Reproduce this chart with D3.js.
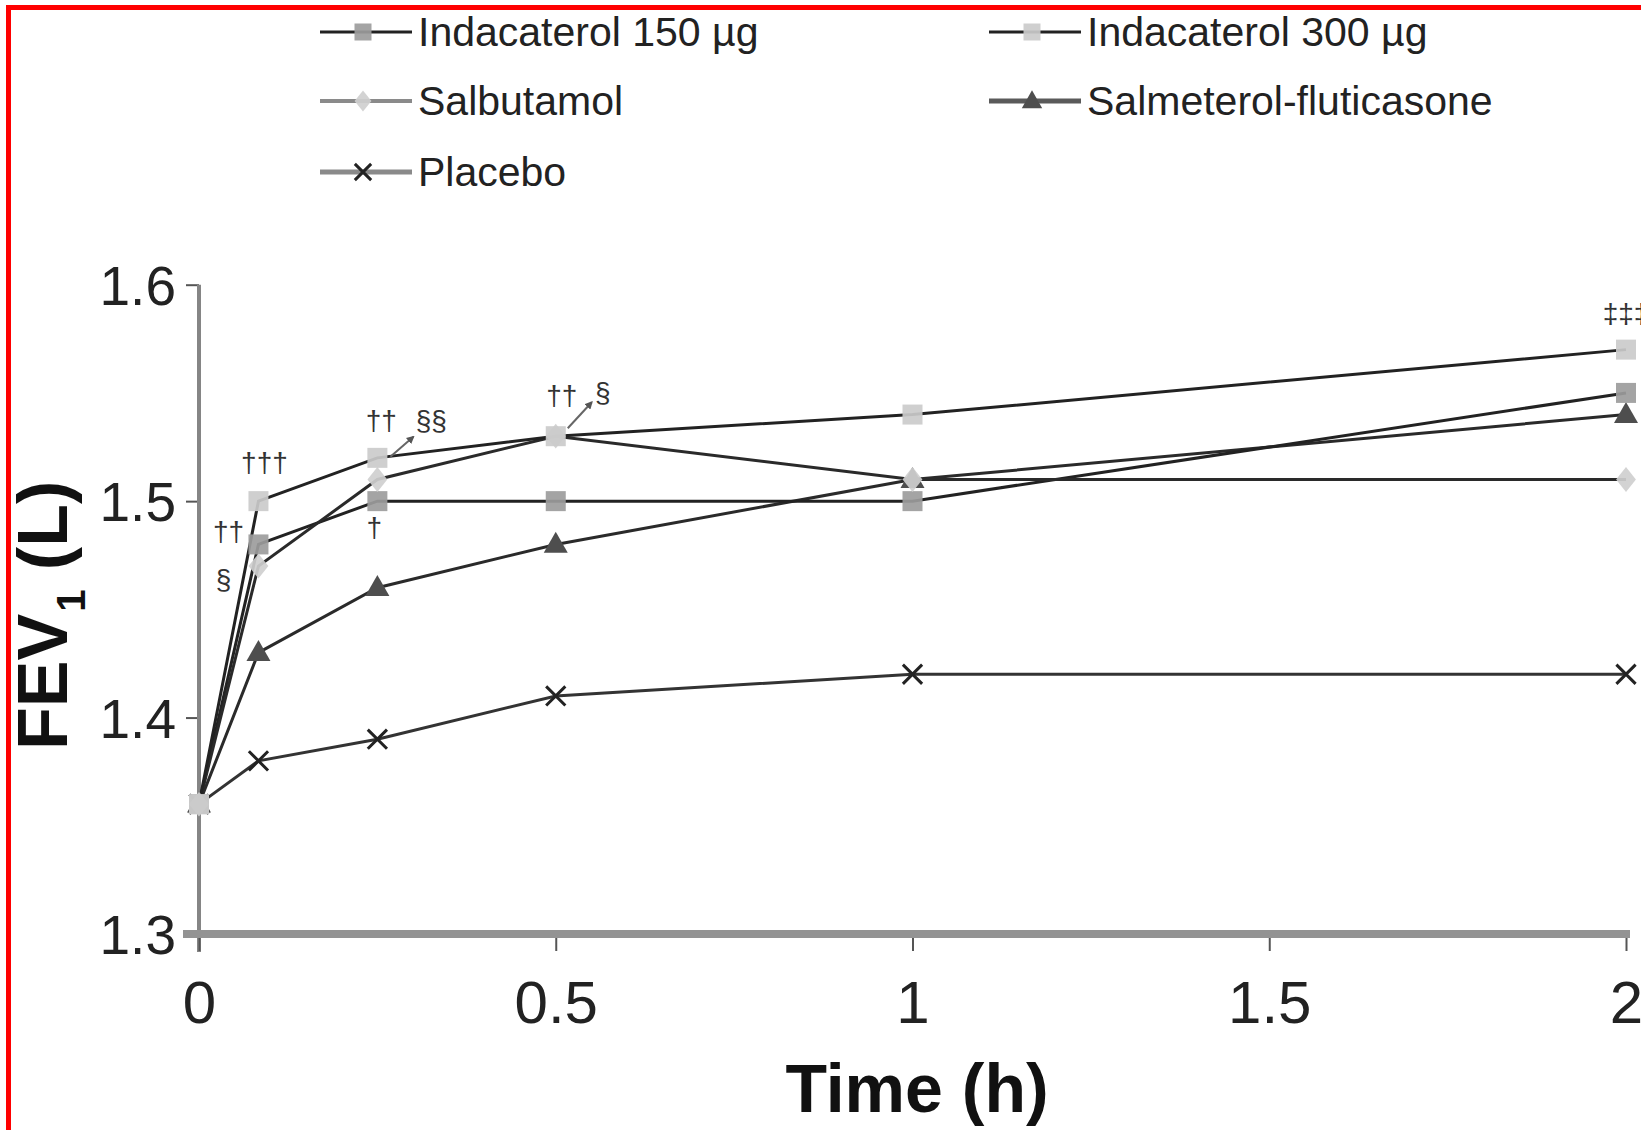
<!DOCTYPE html>
<html>
<head>
<meta charset="utf-8">
<script src="https://cdn.jsdelivr.net/npm/d3@7"></script>
<style>
  html, body { margin: 0; padding: 0; background: #fff; }
  svg { display: block; }
  text { font-family: "Liberation Sans", Arial, Helvetica, sans-serif; }
</style>
</head>
<body>
<svg id="chart" width="1641" height="1130"></svg>
<script>
// ---------- data ----------
const times = [0, 5 / 60, 0.25, 0.5, 1, 2];          // hours
const ind150 = [1.36, 1.48, 1.50, 1.50, 1.50, 1.55];
const ind300 = [1.36, 1.50, 1.52, 1.53, 1.54, 1.57];
const salbutamol = [1.36, 1.47, 1.51, 1.53, 1.51, 1.51];
const salmFlu = [1.36, 1.43, 1.46, 1.48, 1.51, 1.54];
const placebo = [1.36, 1.38, 1.39, 1.41, 1.42, 1.42];

const seriesNames = ["Indacaterol 150 µg", "Indacaterol 300 µg", "Salbutamol", "Salmeterol-fluticasone", "Placebo"];
const xTicks = [0, 0.5, 1, 1.5, 2];
const yTicks = [1.3, 1.4, 1.5, 1.6];
const xTitle = "Time (h)";

// significance annotations: text, time index, value anchor
const annTexts = ["†††", "††", "§", "††", "§§", "†", "††", "§", "‡‡‡"];
const annTimes = [5 / 60, 5 / 60, 5 / 60, 0.25, 0.25, 0.25, 0.5, 0.5, 2];
const annValues = [1.50, 1.48, 1.48, 1.52, 1.52, 1.50, 1.53, 1.53, 1.57];

// ---------- layout ----------
const svg = d3.select("#chart");
const W = 1641, H = 1130;
svg.append("rect").attr("width", W).attr("height", H).attr("fill", "#fff");

const x = d3.scaleLinear().domain([0, 2]).range([199, 1626]);
const y = d3.scaleLinear().domain([1.3, 1.6]).range([934, 284.7]);

// red frame
svg.append("rect").attr("x", 8.5).attr("y", 7.5).attr("width", 3000).attr("height", 3000)
  .attr("fill", "none").attr("stroke", "#ff0000").attr("stroke-width", 5);

// ---------- axes ----------
// y axis
const yAxis = svg.append("g").attr("transform", `translate(${x(0)},0)`)
  .call(d3.axisLeft(y).tickValues(yTicks).tickFormat(d3.format(".1f")).tickSize(13).tickPadding(10));
yAxis.select(".domain").remove();
yAxis.selectAll(".tick line").attr("stroke", "#555").attr("stroke-width", 2);
yAxis.selectAll(".tick text").attr("font-size", 55).attr("fill", "#222").attr("dy", "0.36em")
  .attr("font-family", "Liberation Sans, Arial, sans-serif");
svg.append("line").attr("x1", x(0)).attr("x2", x(0)).attr("y1", y(1.6)).attr("y2", y(1.3) + 18)
  .attr("stroke", "#858585").attr("stroke-width", 4);

// x axis
const xAxis = svg.append("g").attr("transform", `translate(0,${y(1.3)})`)
  .call(d3.axisBottom(x).tickValues(xTicks).tickFormat(d => d3.format("")(d)).tickSize(17).tickPadding(0));
xAxis.select(".domain").remove();
xAxis.selectAll(".tick line").attr("stroke", "#555").attr("stroke-width", 2);
xAxis.selectAll(".tick text").attr("font-size", 60).attr("fill", "#222")
  .attr("y", 89).attr("dy", 0).attr("font-family", "Liberation Sans, Arial, sans-serif");
svg.append("line").attr("x1", x(0) - 16).attr("x2", x(2) + 4).attr("y1", y(1.3)).attr("y2", y(1.3))
  .attr("stroke", "#939393").attr("stroke-width", 8);

// axis titles
svg.append("text").attr("x", 917).attr("y", 1112).attr("text-anchor", "middle")
  .attr("font-size", 68).attr("font-weight", "bold").attr("fill", "#111").text(xTitle);

const yt = svg.append("text").attr("transform", "translate(67,750) rotate(-90)")
  .attr("font-size", 70).attr("font-weight", "bold").attr("fill", "#111");
yt.append("tspan").text("FEV");
yt.append("tspan").attr("font-size", 40).attr("dy", 18).attr("dx", 2).text("1");
yt.append("tspan").attr("dy", -18).text(" (L)");

// ---------- series ----------
const styles = [
  { data: ind150, marker: "square", fill: "#9c9c9c", line: "#222", legLine: "#222", legW: 3 },
  { data: ind300, marker: "square", fill: "#cbcbcb", line: "#222", legLine: "#222", legW: 3 },
  { data: salbutamol, marker: "diamond", fill: "#cfcfcf", line: "#2a2a2a", legLine: "#8a8a8a", legW: 4 },
  { data: salmFlu, marker: "triangle", fill: "#4e4e4e", line: "#2a2a2a", legLine: "#5a5a5a", legW: 5 },
  { data: placebo, marker: "cross", fill: "#222", line: "#333", legLine: "#8a8a8a", legW: 5 }
];

const lineGen = d3.line().x((d, i) => x(times[i])).y(d => y(d));
const drawOrder = [4, 3, 0, 2, 1];

drawOrder.forEach(k => {
  svg.append("path").datum(styles[k].data).attr("d", lineGen)
    .attr("fill", "none").attr("stroke", styles[k].line).attr("stroke-width", 3);
});

function drawMarker(g, type, cx, cy, fill, s) {
  if (type === "square") {
    g.append("rect").attr("x", cx - s / 2).attr("y", cy - s / 2).attr("width", s).attr("height", s)
      .attr("fill", fill).attr("opacity", 0.92);
  } else if (type === "diamond") {
    const r = s * 0.62;
    g.append("path").attr("d", `M${cx},${cy - r}L${cx + r * 0.8},${cy}L${cx},${cy + r}L${cx - r * 0.8},${cy}Z`)
      .attr("fill", fill).attr("opacity", 0.92);
  } else if (type === "triangle") {
    const r = s * 0.6;
    g.append("path").attr("d", `M${cx},${cy - r * 1.05}L${cx + r},${cy + r * 0.7}L${cx - r},${cy + r * 0.7}Z`)
      .attr("fill", fill);
  } else if (type === "cross") {
    const r = s * 0.48;
    g.append("path").attr("d", `M${cx - r},${cy - r}L${cx + r},${cy + r}M${cx + r},${cy - r}L${cx - r},${cy + r}`)
      .attr("stroke", fill).attr("stroke-width", 3).attr("fill", "none");
  }
}

const mk = svg.append("g");
drawOrder.forEach(k => {
  styles[k].data.forEach((v, i) => drawMarker(mk, styles[k].marker, x(times[i]), y(v), styles[k].fill, 20));
});

// ---------- annotations ----------
const annOffsets = [[6, -29], [-30, -3], [-35, 45], [4, -28], [54, -28], [-3, 36], [6, -31], [47, -34], [0, -27]];
const ag = svg.append("g");
annTexts.forEach((t, i) => {
  ag.append("text").attr("x", x(annTimes[i]) + annOffsets[i][0]).attr("y", y(annValues[i]) + annOffsets[i][1])
    .attr("text-anchor", "middle").attr("font-size", 28).attr("fill", "#333").text(t);
});
svg.append("defs").append("marker").attr("id", "ah").attr("viewBox", "0 0 10 10")
  .attr("refX", 8).attr("refY", 5).attr("markerWidth", 4).attr("markerHeight", 4).attr("orient", "auto")
  .append("path").attr("d", "M0,0L10,5L0,10Z").attr("fill", "#555");
const arrows = [[0.25, 1.52, 13, -1, 36, -21], [0.5, 1.53, 12, -8, 36, -34]];
arrows.forEach(a => {
  ag.append("line").attr("x1", x(a[0]) + a[2]).attr("y1", y(a[1]) + a[3])
    .attr("x2", x(a[0]) + a[4]).attr("y2", y(a[1]) + a[5])
    .attr("stroke", "#666").attr("stroke-width", 2).attr("marker-end", "url(#ah)");
});

// ---------- legend ----------
const legPos = [[320, 46], [989, 46], [320, 115], [989, 115], [320, 186]];
const lg = svg.append("g");
seriesNames.forEach((name, k) => {
  const [lx, by] = legPos[k];
  const ly = by - 14;
  const st = styles[k];
  lg.append("line").attr("x1", lx).attr("x2", lx + 92).attr("y1", ly).attr("y2", ly)
    .attr("stroke", st.legLine).attr("stroke-width", st.legW);
  drawMarker(lg, st.marker, lx + 43, ly, st.fill, 17);
  lg.append("text").attr("x", lx + 98).attr("y", by).attr("font-size", 41).attr("fill", "#222").text(name);
});
</script>
</body>
</html>
